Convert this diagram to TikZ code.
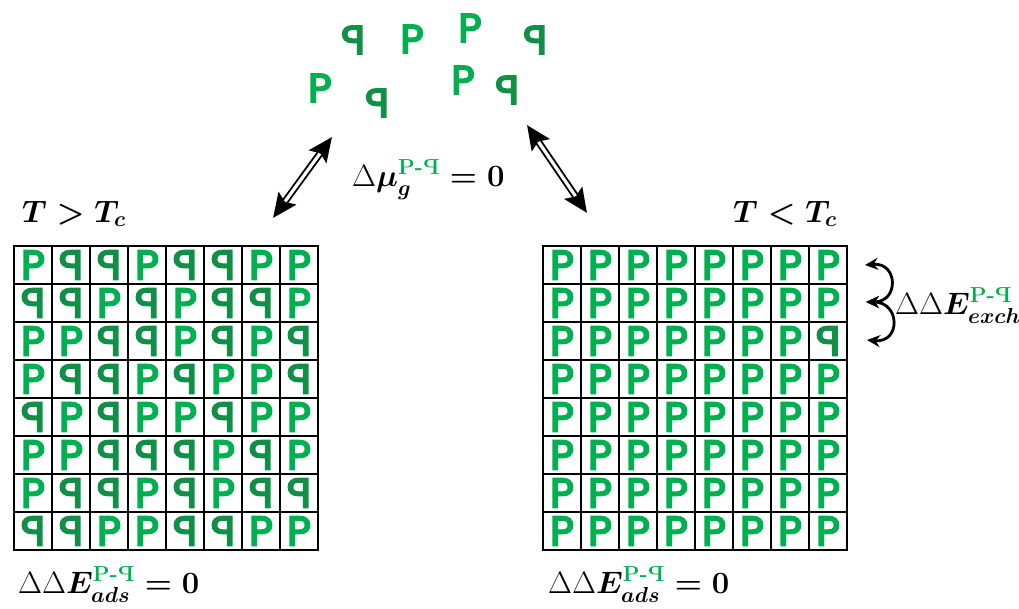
\RequirePackage{fix-cm}
\documentclass[tikz,border=0pt]{standalone}
\usepackage{amsmath}
\usepackage{fontspec}
\newfontfamily\glyphfont{Poppins}[FakeBold=5]
\usetikzlibrary{arrows.meta}

\definecolor{pgreen}{RGB}{0,176,80}
\definecolor{qgreen}{RGB}{18,143,70}

% the two enantiomer glyphs: P and its mirror image
\newcommand\glyphP{\textcolor{pgreen}{P}}
\newcommand\glyphQ{\textcolor{qgreen}{\reflectbox{P}}}
\newcommand\cellglyph[1]{\ifnum#1=0 \glyphP\else\glyphQ\fi}
\newcommand\pqsup{\text{\bfseries\color{pgreen}P-\reflectbox{P}}}
\newcommand\dlt{\mbox{\unboldmath$\Delta$}}

\tikzset{
  cell/.style={draw=black, line width=1.4pt, minimum size=38pt, inner sep=0pt,
    font=\glyphfont\fontsize{41}{41}\selectfont},
  free/.style={inner sep=0pt, font=\glyphfont\fontsize{40}{40}\selectfont},
  lbl/.style={inner sep=0pt, anchor=base west, font=\fontsize{31}{37}\selectfont\boldmath},
  dblouter/.style={line width=7pt,
    {Stealth[length=24pt,width=21pt,inset=4pt]}-{Stealth[length=24pt,width=21pt,inset=4pt]}},
  dblinner/.style={line width=3.2pt, white, shorten <=20.5pt, shorten >=20.5pt},
  curl/.style={line width=2.8pt,
    {Stealth[length=13pt,width=12pt]}-{Stealth[length=13pt,width=12pt]}},
}

\begin{document}
\begin{tikzpicture}[x=1pt, y=-1pt]
\useasboundingbox (0,0) rectangle (1019,608);

% molecules in the gas phase
\node[free] (g1) at (353,40) {\glyphQ};
\node[free] (g2) at (412,39) {\glyphP};
\node[free] (g3) at (470,28) {\glyphP};
\node[free] (g4) at (535,40) {\glyphQ};
\node[free] (g5) at (320,88) {\glyphP};
\node[free] (g6) at (377,103) {\glyphQ};
\node[free] (g7) at (463,80) {\glyphP};
\node[free] (g8) at (507,90) {\glyphQ};

% racemic surface above T_c
\foreach \row [count=\r] in {
  {0,1,1,0,1,1,0,0},
  {1,1,0,1,0,1,1,0},
  {0,0,1,1,0,1,0,1},
  {0,1,1,0,1,0,0,1},
  {1,0,1,0,0,1,0,0},
  {0,0,1,1,1,0,1,0},
  {0,1,1,0,1,0,1,1},
  {1,1,0,0,1,1,0,0}} {
  \foreach \v [count=\c] in \row {
    \node[cell] (L-\r-\c) at ({14+38*(\c-0.5)},{246+38*(\r-0.5)}) {\cellglyph{\v}};
  }
}

% enantiopure surface below T_c
\foreach \row [count=\r] in {
  {0,0,0,0,0,0,0,0},
  {0,0,0,0,0,0,0,0},
  {0,0,0,0,0,0,0,1},
  {0,0,0,0,0,0,0,0},
  {0,0,0,0,0,0,0,0},
  {0,0,0,0,0,0,0,0},
  {0,0,0,0,0,0,0,0},
  {0,0,0,0,0,0,0,0}} {
  \foreach \v [count=\c] in \row {
    \node[cell] (R-\r-\c) at ({543+38*(\c-0.5)},{246+38*(\r-0.5)}) {\cellglyph{\v}};
  }
}

% adsorption / desorption equilibria
\coordinate (gasL) at (332,137);
\coordinate (surfL) at (273,218);
\coordinate (gasR) at (527,125);
\coordinate (surfR) at (587,213);
\draw[dblouter] (gasL) -- (surfL);
\draw[dblinner] (gasL) -- (surfL);
\draw[dblouter] (gasR) -- (surfR);
\draw[dblinner] (gasR) -- (surfR);

% exchange between neighbouring rows
\coordinate (exTop) at (865,265);
\coordinate (exMid) at (866,302);
\coordinate (exBot) at (867,340);
\draw[curl] (exTop) to[out=5, in=0, looseness=2.3] (exMid);
\draw[curl] (exMid) to[out=0, in=-5, looseness=2.3] (exBot);

% labels
\node[lbl] (tHigh) at (22,222) {$T > T_c$};
\node[lbl] (tLow) at (733,222) {$T < T_c$};
\node[lbl] (dmu) at (352,186) {$\dlt\mu_g^{\pqsup} = \mathbf{0}$};
\node[lbl] (dexch) at (895,314) {$\dlt\dlt E_{exch}^{\pqsup}$};
\node[lbl] (dadsL) at (18,593) {$\dlt\dlt E_{ads}^{\pqsup} = \mathbf{0}$};
\node[lbl] (dadsR) at (548,593) {$\dlt\dlt E_{ads}^{\pqsup} = \mathbf{0}$};
\end{tikzpicture}
\end{document}
